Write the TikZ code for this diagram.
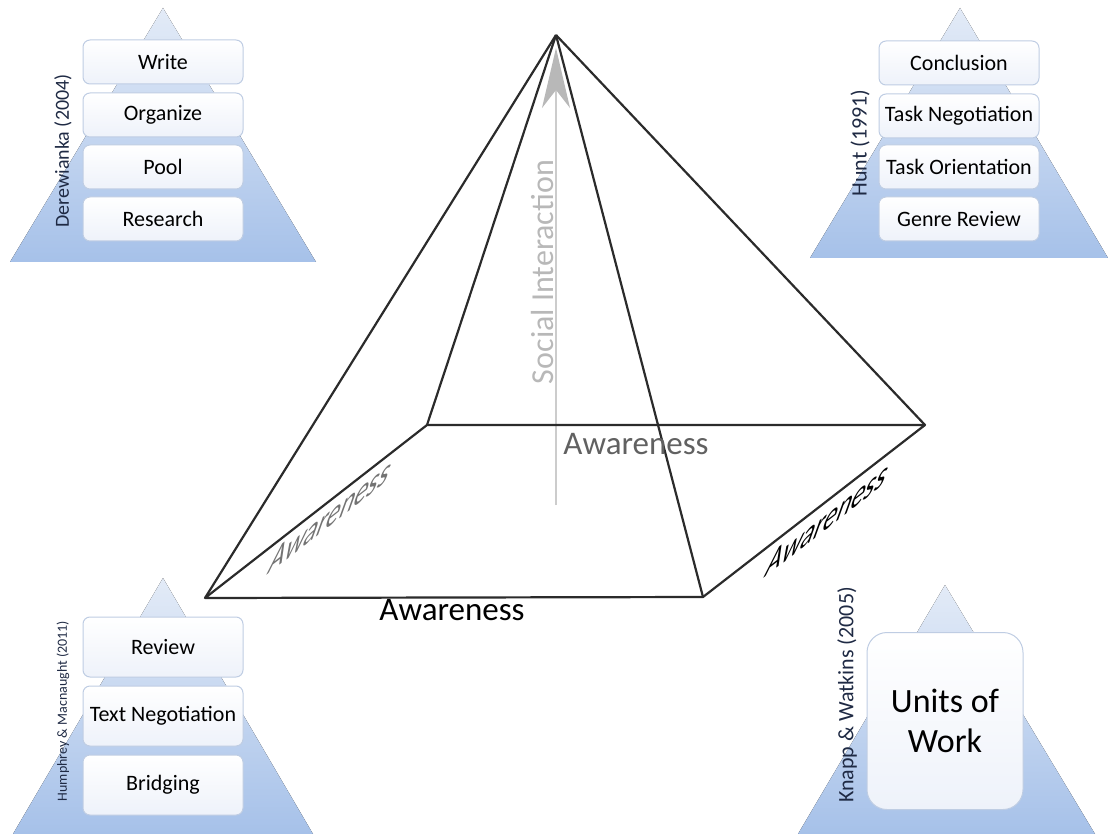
\documentclass[tikz,border=0pt]{standalone}
\usepackage{fontspec}
\setmainfont{Carlito}
\usetikzlibrary{arrows.meta}
\definecolor{triTop}{HTML}{E3EBF7}
\definecolor{triBot}{HTML}{A6C1E9}
\definecolor{boxLine}{HTML}{BFCDE3}
\definecolor{boxBot}{HTML}{EEF2FA}
\definecolor{refInk}{HTML}{1F2A44}
\definecolor{edgeInk}{HTML}{2B2B2B}
\tikzset{
  tri/.style={top color=triTop, bottom color=triBot, draw=none},
  stage/.style={draw=boxLine, line width=1pt, rounded corners=7pt,
    top color=white, bottom color=boxBot, minimum width=160pt,
    inner sep=0pt, font=\fontsize{22}{26}\selectfont, text=black},
  ref/.style={rotate=90, text=refInk, inner sep=0pt},
  edge/.style={draw=edgeInk, line width=2.2pt, line join=round},
  aware/.style={inner sep=0pt, font=\fontsize{33}{38}\selectfont},
  % text lying in the base plane along a side edge
  sidetext/.style={inner sep=0pt, font=\fontsize{33}{38}\selectfont,
    cm={0.82,0.64,0.45,1.25,(0,0)}}
}
\begin{document}
\begin{tikzpicture}[x=1pt, y=-1pt]
\useasboundingbox (0,0) rectangle (1108,834);

% ---- Derewianka (2004)
\fill[tri] (163,8) -- (316,262) -- (10,262) -- cycle;
\node[stage, minimum height=44pt] (w) at (163,62) {Write};
\node[stage, minimum height=44pt] (o) at (163,115) {Organize};
\node[stage, minimum height=44pt] (p) at (163,167) {Pool};
\node[stage, minimum height=44pt] (r) at (163,219) {Research};
\node[ref, font=\fontsize{20}{24}\selectfont] (dref) at (63,151) {Derewianka (2004)};

% ---- Hunt (1991)
\fill[tri] (960,8) -- (1108,258) -- (810,258) -- cycle;
\node[stage, minimum height=44pt] (c) at (959,63) {Conclusion};
\node[stage, minimum height=44pt] (tn) at (959,116) {Task Negotiation};
\node[stage, minimum height=44pt] (to) at (959,167) {Task Orientation};
\node[stage, minimum height=44pt] (gr) at (959,219) {Genre Review};
\node[ref, font=\fontsize{22}{26}\selectfont] (href) at (860,143) {Hunt (1991)};

% ---- Humphrey & Macnaught (2011)
\fill[tri] (163,578) -- (313,834) -- (13,834) -- cycle;
\node[stage, minimum height=60pt] (rv) at (163,647) {Review};
\node[stage, minimum height=60pt] (txn) at (163,716) {Text Negotiation};
\node[stage, minimum height=60pt] (br) at (163,785) {Bridging};
\node[ref, font=\fontsize{14}{17}\selectfont] (hmref) at (63,711) {Humphrey \& Macnaught (2011)};

% ---- Knapp & Watkins (2005)
\fill[tri] (945,585) -- (1095,834) -- (798,834) -- cycle;
\node[stage, minimum width=156pt, minimum height=177pt, rounded corners=20pt,
  font=\fontsize{34}{40}\selectfont, align=center] (uw) at (945,721) {Units of\\Work};
\node[ref, font=\fontsize{22}{26}\selectfont] (kwref) at (847,695) {Knapp \& Watkins (2005)};

% ---- central pyramid
\coordinate (apex) at (556,35);
\coordinate (fl) at (205,598);
\coordinate (fr) at (703,597);
\coordinate (br2) at (925,425);
\coordinate (bl) at (427,425);
\coordinate (axisBase) at (556,505);
\coordinate (axisTip) at (556,48);

% social interaction axis
\draw[draw=black!20, line width=2pt,
  -{Stealth[length=60pt, width=28pt, inset=18pt, color=black!28, fill=black!28]}]
  (axisBase) -- (axisTip);
\node[rotate=90, text=black!28, inner sep=0pt, font=\fontsize{32}{38}\selectfont]
  (si) at (543,272) {Social Interaction};

% base and lateral edges
\draw[edge] (fl) -- (fr) -- (br2) -- (bl) -- cycle;
\draw[edge] (apex) -- (fl);
\draw[edge] (apex) -- (bl);
\draw[edge] (apex) -- (fr);
\draw[edge] (apex) -- (br2);

% awareness labels
\node[aware, text=black] (afront) at (452,610) {Awareness};
\node[aware, text=black!62] (aback) at (636,444) {Awareness};
\begin{scope}[shift={(331,516)}]
  \node[sidetext, text=black!55] (aleft) at (0,0) {Awareness};
\end{scope}
\begin{scope}[shift={(828,519)}]
  \node[sidetext, text=black] (aright) at (0,0) {Awareness};
\end{scope}
\end{tikzpicture}
\end{document}
